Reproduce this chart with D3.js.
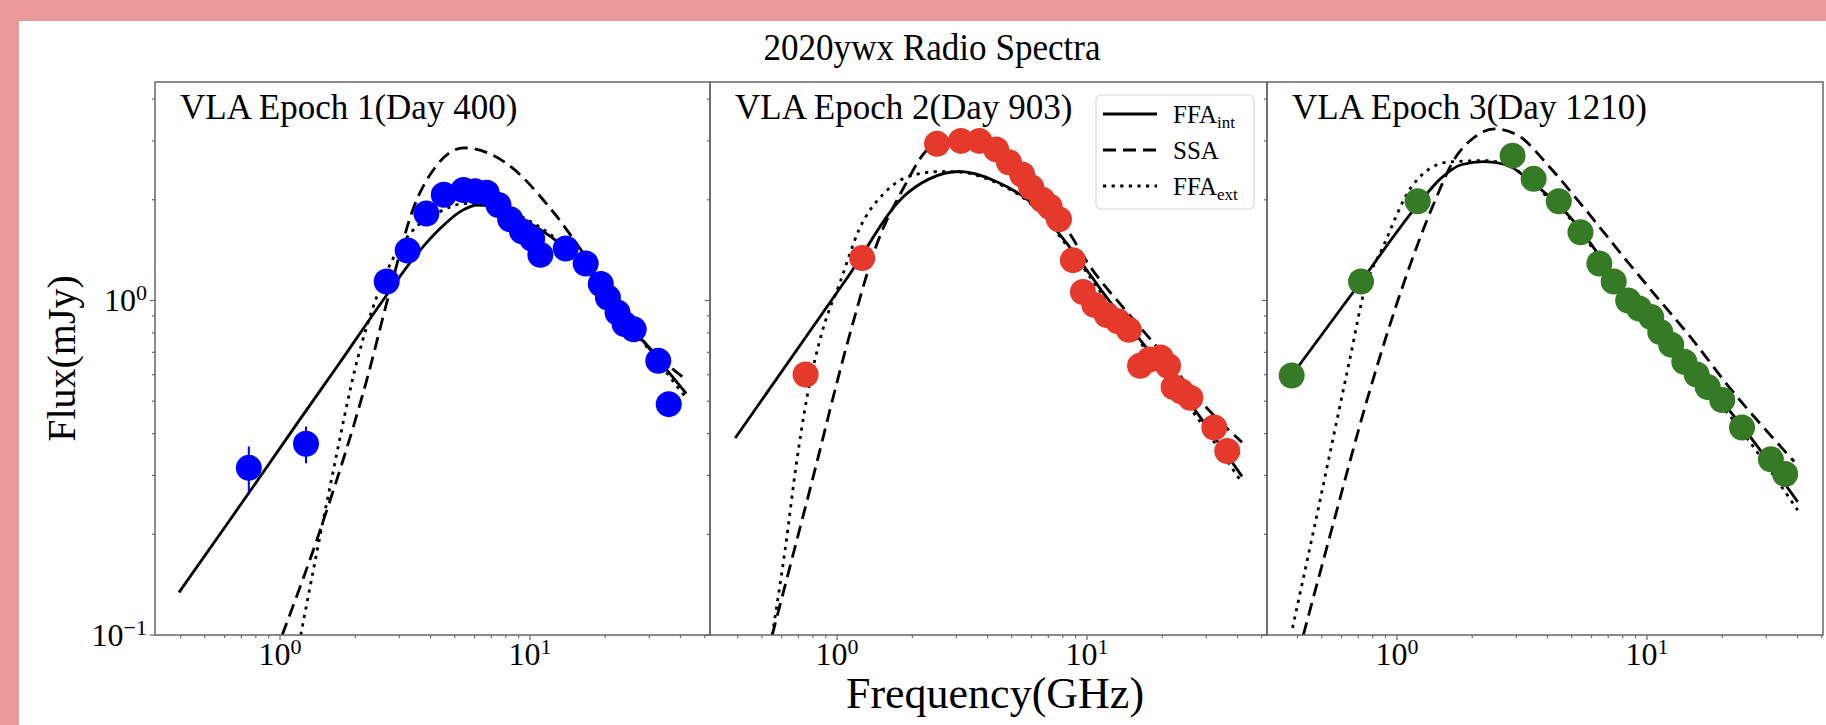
<!DOCTYPE html>
<html>
<head>
<meta charset="utf-8">
<script src="https://cdnjs.cloudflare.com/ajax/libs/d3/7.8.5/d3.min.js"></script>
<style>
  body { margin: 0; background: #fff; }
  svg { display: block; font-family: "Liberation Serif", "Times New Roman", serif; }
</style>
</head>
<body>
<svg id="chart" width="1826" height="725"></svg>
<script>
// ---------- values ----------
var epochTitles = ["VLA Epoch 1(Day 400)", "VLA Epoch 2(Day 903)", "VLA Epoch 3(Day 1210)"];
var pointColors = ["#0000ff", "#e5392b", "#357a25"];
var xLimits = [[0.316, 52.5], [0.31, 52.5], [0.302, 50.6]];
var yLimits = [0.1, 4.5];
var xMajorTicks = [1, 10];
var yMajorTicks = [0.1, 1];

// epoch 1 (day 400)
var freq1 = [0.75, 1.27, 2.67, 3.24, 3.85, 4.52, 5.42, 6.03, 6.71, 7.48, 8.33, 9.29, 10.2, 11.0, 13.9, 16.7, 19.2, 20.5, 22.4, 23.9, 26.0, 32.6, 35.9];
var flux1 = [0.316, 0.373, 1.14, 1.41, 1.82, 2.07, 2.14, 2.12, 2.10, 1.93, 1.75, 1.61, 1.53, 1.37, 1.43, 1.29, 1.12, 1.02, 0.92, 0.85, 0.82, 0.66, 0.49];
var err1  = [0.05, 0.047, 0, 0, 0, 0, 0, 0, 0, 0, 0, 0, 0, 0, 0, 0, 0, 0, 0, 0, 0, 0, 0];

// epoch 2 (day 903)
var freq2 = [0.748, 1.26, 2.51, 3.13, 3.71, 4.33, 4.87, 5.5, 5.98, 6.62, 7.08, 7.72, 8.78, 9.63, 10.7, 12.0, 13.3, 14.7, 16.3, 17.8, 19.7, 21.1, 22.2, 23.8, 25.9, 32.3, 36.4];
var flux2 = [0.601, 1.34, 2.94, 3.0, 3.0, 2.83, 2.59, 2.38, 2.18, 2.0, 1.91, 1.75, 1.32, 1.06, 0.97, 0.905, 0.867, 0.817, 0.638, 0.666, 0.676, 0.638, 0.551, 0.535, 0.512, 0.417, 0.355];

// epoch 3 (day 1210)
var freq3 = [0.379, 0.718, 1.21, 2.9, 3.52, 4.44, 5.42, 6.45, 7.36, 8.41, 9.3, 10.4, 11.3, 12.5, 14.1, 15.8, 17.5, 20.0, 24.0, 31.3, 35.7];
var flux3 = [0.597, 1.14, 1.98, 2.71, 2.31, 1.98, 1.6, 1.29, 1.14, 1.0, 0.946, 0.892, 0.805, 0.738, 0.656, 0.601, 0.551, 0.504, 0.417, 0.335, 0.303];

// model curves, [GHz, mJy] pairs
var ffaInt1 = [[0.394,0.134],[0.62,0.217],[0.847,0.303],[1.18,0.433],[1.7,0.638],[2.65,1.03],[3.4,1.33],[4.4,1.65],[5.3,1.85],[6.2,1.93],[7.5,1.9],[9.4,1.75],[15,1.36],[22.9,0.92],[42.2,0.527]];
var ssa1    = [[1.02,0.1],[1.46,0.21],[2.23,0.584],[2.76,1.08],[3.41,1.88],[4.21,2.52],[5.43,2.86],[7.94,2.59],[12.1,1.88],[18.5,1.21],[28.3,0.76],[41.3,0.587]];
var ffaExt1 = [[1.21,0.1],[1.59,0.281],[2.05,0.676],[2.43,1.02],[2.9,1.38],[3.4,1.62],[4.4,1.85],[5.5,1.95],[6.5,1.95],[9.4,1.77],[15,1.37],[22.9,0.92],[42.2,0.51]];

var ffaInt2 = [[0.391,0.388],[1.107,1.18],[1.85,2.05],[2.34,2.31],[3.08,2.43],[4.33,2.27],[6.08,1.94],[8.55,1.44],[12.0,1.02],[16.9,0.738],[23.8,0.535],[41.7,0.298]];
var ssa2    = [[0.55,0.1],[0.787,0.281],[1.107,0.76],[1.45,1.49],[1.85,2.18],[2.26,2.79],[2.7,3.0],[3.3,3.05],[4.2,2.9],[5.5,2.5],[7.0,1.95],[8.55,1.58],[10.1,1.29],[14.3,0.932],[20,0.696],[28.2,0.504],[41.7,0.377]];
var ffaExt2 = [[0.55,0.1],[0.62,0.181],[0.687,0.325],[0.76,0.52],[0.871,0.805],[1.03,1.14],[1.22,1.62],[1.56,2.11],[1.91,2.34],[2.59,2.43],[3.08,2.42],[4.33,2.25],[6.08,1.92],[8.55,1.42],[12.0,1.0],[16.9,0.725],[23.8,0.52],[41.7,0.285]];

var ffaInt3 = [[0.379,0.597],[0.718,1.14],[1.21,1.93],[1.49,2.31],[1.82,2.55],[2.23,2.6],[2.72,2.55],[3.43,2.27],[4.78,1.82],[7.87,1.11],[13.0,0.70],[21.3,0.47],[40.1,0.25]];
var ssa3    = [[0.422,0.1],[0.551,0.21],[0.768,0.52],[1.07,1.14],[1.4,1.94],[1.71,2.67],[2.01,3.05],[2.46,3.26],[3.1,3.09],[4.05,2.52],[5.64,1.88],[7.87,1.38],[11.0,1.02],[15.3,0.76],[21.3,0.551],[29.8,0.411],[38.8,0.33]];
var ffaExt3 = [[0.382,0.105],[0.467,0.21],[0.551,0.377],[0.65,0.676],[0.743,1.08],[0.877,1.44],[1.14,2.18],[1.59,2.59],[2.23,2.62],[2.9,2.5],[3.43,2.25],[4.78,1.8],[7.87,1.09],[13.0,0.69],[21.3,0.455],[40.1,0.236]];

var legendLabels = [["FFA", "int"], ["SSA", ""], ["FFA", "ext"]];

// ---------- layout ----------
var W = 1826, H = 725;
var plotTop = 82, plotBottom = 635;
var panelX = [[155, 710], [710, 1267], [1267, 1823]];
var dashes = ["none", "13,7", "3.2,5.4"];
var tickColor = "#666";

var svg = d3.select("#chart");

// pink frame (top & left) of the original screenshot
svg.append("rect").attr("x", 0).attr("y", 0).attr("width", W).attr("height", H).attr("fill", "#fff");
svg.append("rect").attr("x", 0).attr("y", 0).attr("width", W).attr("height", 21).attr("fill", "#ea999b");
svg.append("rect").attr("x", 0).attr("y", 0).attr("width", 19).attr("height", H).attr("fill", "#ea999b");

var y = d3.scaleLog().domain(yLimits).range([plotBottom, plotTop]);

var panels = [
  {freq: freq1, flux: flux1, err: err1, models: [ffaInt1, ssa1, ffaExt1]},
  {freq: freq2, flux: flux2, err: null, models: [ffaInt2, ssa2, ffaExt2]},
  {freq: freq3, flux: flux3, err: null, models: [ffaInt3, ssa3, ffaExt3]}
];

function isDecade(v){
  var l = Math.log10(v);
  return Math.abs(l - Math.round(l)) < 1e-6;
}

panels.forEach(function(p, i){
  var x = d3.scaleLog().domain(xLimits[i]).range(panelX[i]);
  var g = svg.append("g");

  var clipId = "clip" + i;
  svg.append("clipPath").attr("id", clipId)
    .append("rect")
    .attr("x", panelX[i][0]).attr("y", plotTop)
    .attr("width", panelX[i][1] - panelX[i][0]).attr("height", plotBottom - plotTop);

  // model curves
  var line = d3.line()
    .x(function(d){ return x(d[0]); })
    .y(function(d){ return y(d[1]); })
    .curve(d3.curveMonotoneX);
  p.models.forEach(function(m, k){
    g.append("path")
      .datum(m)
      .attr("d", line)
      .attr("clip-path", "url(#" + clipId + ")")
      .attr("fill", "none")
      .attr("stroke", "#000")
      .attr("stroke-width", 2.8)
      .attr("stroke-dasharray", dashes[k]);
  });

  // error bars (only epoch 1 has visible ones)
  if(p.err){
    g.selectAll(".err")
      .data(p.freq.map(function(f, j){ return [f, p.flux[j], p.err[j]]; }).filter(function(d){ return d[2] > 0; }))
      .enter().append("line")
      .attr("x1", function(d){ return x(d[0]); })
      .attr("x2", function(d){ return x(d[0]); })
      .attr("y1", function(d){ return y(d[1] - d[2]); })
      .attr("y2", function(d){ return y(d[1] + d[2]); })
      .attr("stroke", pointColors[i])
      .attr("stroke-width", 2);
  }

  // data points
  g.selectAll(".pt")
    .data(p.freq.map(function(f, j){ return [f, p.flux[j]]; }))
    .enter().append("circle")
    .attr("cx", function(d){ return x(d[0]); })
    .attr("cy", function(d){ return y(d[1]); })
    .attr("r", 13)
    .attr("fill", pointColors[i]);

  // frame
  g.append("rect")
    .attr("x", panelX[i][0]).attr("y", plotTop)
    .attr("width", panelX[i][1] - panelX[i][0]).attr("height", plotBottom - plotTop)
    .attr("fill", "none").attr("stroke", tickColor).attr("stroke-width", 1.5);

  // x ticks
  var xt = x.ticks();
  g.selectAll(".xt")
    .data(xt)
    .enter().append("line")
    .attr("x1", function(d){ return x(d); })
    .attr("x2", function(d){ return x(d); })
    .attr("y1", plotBottom)
    .attr("y2", function(d){ return plotBottom + (isDecade(d) ? 5 : 3); })
    .attr("stroke", tickColor).attr("stroke-width", 1.2);

  xMajorTicks.forEach(function(v){
    var t = g.append("text")
      .attr("x", x(v)).attr("y", 665)
      .attr("text-anchor", "middle")
      .attr("font-size", 32);
    t.append("tspan").text("10");
    t.append("tspan").attr("dy", -11).attr("font-size", 22).text(Math.round(Math.log10(v)));
  });

  // y ticks (left spine of every panel)
  var yt = y.ticks();
  g.selectAll(".yt")
    .data(yt)
    .enter().append("line")
    .attr("x1", panelX[i][0])
    .attr("x2", function(d){ return panelX[i][0] - (isDecade(d) ? 5 : 3); })
    .attr("y1", function(d){ return y(d); })
    .attr("y2", function(d){ return y(d); })
    .attr("stroke", tickColor).attr("stroke-width", 1.2);

  if(i == 0){
    yMajorTicks.forEach(function(v){
      var t = g.append("text")
        .attr("x", 147).attr("y", y(v) + 11)
        .attr("text-anchor", "end")
        .attr("font-size", 32);
      var e = Math.round(Math.log10(v));
      t.append("tspan").text("10");
      t.append("tspan").attr("dy", -11).attr("font-size", 22).text(e < 0 ? "\u2212" + (-e) : e);
    });
  }

  // panel label
  g.append("text")
    .attr("x", panelX[i][0] + 25).attr("y", 119)
    .attr("font-size", 35)
    .text(epochTitles[i]);

  // legend lives in the middle panel
  if(i == 1){
    var lg = g.append("g");
    lg.append("rect")
      .attr("x", 1096).attr("y", 95).attr("width", 158).attr("height", 114)
      .attr("rx", 5).attr("fill", "#fff").attr("fill-opacity", 0.85)
      .attr("stroke", "#d8d8d8").attr("stroke-width", 1.2);
    legendLabels.forEach(function(lab, k){
      var ly = 114 + k * 36;
      lg.append("line")
        .attr("x1", 1103).attr("x2", 1157).attr("y1", ly).attr("y2", ly)
        .attr("stroke", "#000")
        .attr("stroke-width", 2.8)
        .attr("stroke-dasharray", dashes[k]);
      var t = lg.append("text").attr("x", 1173).attr("y", ly + 9).attr("font-size", 25);
      t.append("tspan").text(lab[0]);
      if(lab[1]) t.append("tspan").attr("dy", 5).attr("font-size", 17).text(lab[1]);
    });
  }
});

// titles
svg.append("text")
  .attr("transform", "translate(932,60) scale(0.9,1)")
  .attr("text-anchor", "middle")
  .attr("font-size", 39)
  .text("2020ywx Radio Spectra");

svg.append("text")
  .attr("x", 995).attr("y", 708)
  .attr("text-anchor", "middle")
  .attr("font-size", 44)
  .text("Frequency(GHz)");

svg.append("text")
  .attr("transform", "translate(75," + ((plotTop + plotBottom) / 2) + ") rotate(-90)")
  .attr("text-anchor", "middle")
  .attr("font-size", 40)
  .text("Flux(mJy)");
</script>
</body>
</html>
